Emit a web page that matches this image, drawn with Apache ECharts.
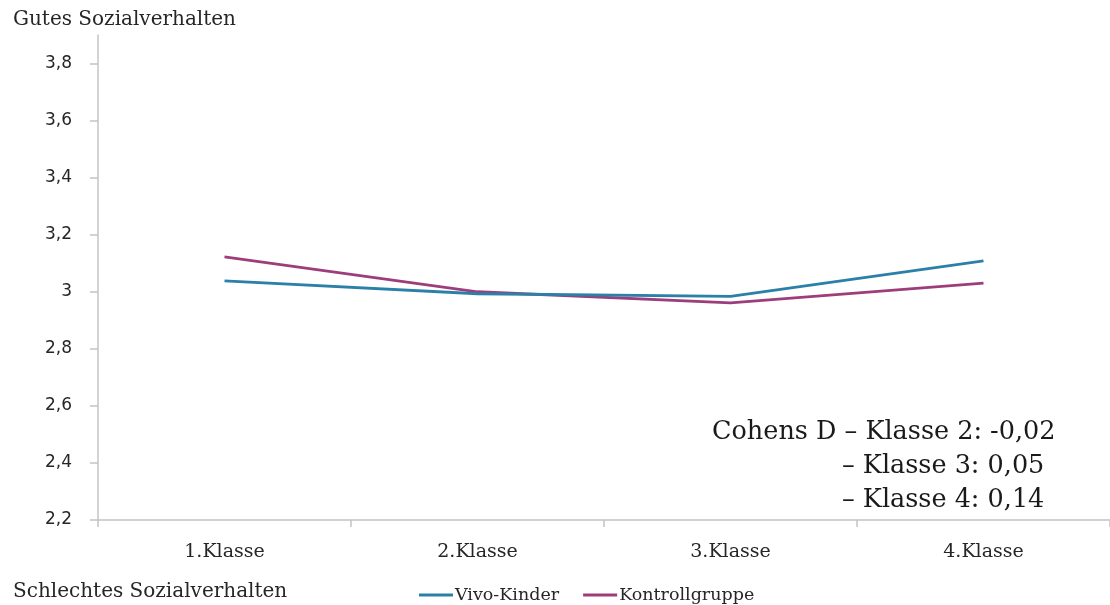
<!DOCTYPE html>
<html>
<head>
<meta charset="utf-8">
<script src="https://cdn.jsdelivr.net/npm/echarts@6/dist/echarts.min.js"></script>
<style>html,body{margin:0;padding:0;background:#fff}#c{width:1110px;height:605px}</style>
</head>
<body>
<div id="c"></div>
<script>
const categories = ['1.Klasse', '2.Klasse', '3.Klasse', '4.Klasse'];
const vivoKinder = [3.038, 2.993, 2.984, 3.108];
const kontrollgruppe = [3.122, 3.0, 2.961, 3.03];
const yTicks = [2.2, 2.4, 2.6, 2.8, 3.0, 3.2, 3.4, 3.6, 3.8];
const seriesNames = ['Vivo-Kinder', 'Kontrollgruppe'];
const yTitleTop = 'Gutes Sozialverhalten';
const yTitleBottom = 'Schlechtes Sozialverhalten';
const noteLines = ['Cohens D – Klasse 2: -0,02', '– Klasse 3: 0,05', '– Klasse 4: 0,14'];

const serif = '"DejaVu Serif", serif';
const chart = echarts.init(document.getElementById('c'), null, {renderer: 'canvas'});
chart.setOption({
  animation: false,
  backgroundColor: '#fff',
  grid: {left: 98, right: -7, top: 35, bottom: 85, containLabel: false},
  legend: {
    left: 414, top: 581, itemGap: 24, itemWidth: 34, itemHeight: 3,
    textStyle: {fontFamily: serif, fontSize: 17.5, color: '#262626', padding: [0,0,0,-3]},
    data: [
      {name: seriesNames[0], icon: 'rect'},
      {name: seriesNames[1], icon: 'rect'}
    ]
  },
  xAxis: {
    type: 'category', data: categories, boundaryGap: true,
    axisLine: {lineStyle: {color: '#c4c4c4', width: 1.5}},
    axisTick: {show: true, length: 7, lineStyle: {color: '#c4c4c4', width: 1.5}},
    axisLabel: {fontFamily: serif, fontSize: 19, color: '#262626', margin: 23}
  },
  yAxis: {
    type: 'value', min: 2.2, max: 3.9, interval: 0.2,
    axisLine: {show: true, lineStyle: {color: '#c4c4c4', width: 1.5}},
    axisTick: {show: true, length: 8, lineStyle: {color: '#c4c4c4', width: 1.5}, customValues: yTicks},
    splitLine: {show: false},
    axisLabel: {
      customValues: yTicks, margin: 26,
      fontFamily: '"DejaVu Sans", sans-serif', fontSize: 17, color: '#262626',
      formatter: v => String(Math.round(v * 10) / 10).replace('.', ',')
    }
  },
  series: [
    {name: seriesNames[0], type: 'line', data: vivoKinder, symbol: 'none',
     lineStyle: {color: '#2b80a8', width: 2.8}, itemStyle: {color: '#2b80a8'}, z: 3},
    {name: seriesNames[1], type: 'line', data: kontrollgruppe, symbol: 'none',
     lineStyle: {color: '#9e3d7b', width: 2.8}, itemStyle: {color: '#9e3d7b'}, z: 2}
  ],
  graphic: [
    {type: 'text', left: 13, top: 10, style: {text: yTitleTop, font: '20px ' + serif, fill: '#262626'}},
    {type: 'text', left: 13, top: 582, style: {text: yTitleBottom, font: '20px ' + serif, fill: '#262626'}},
    {type: 'text', left: 712, top: 419, style: {text: noteLines[0], font: '25.5px ' + serif, fill: '#1a1a1a'}},
    {type: 'text', left: 842, top: 453, style: {text: noteLines[1], font: '25.5px ' + serif, fill: '#1a1a1a'}},
    {type: 'text', left: 842, top: 487, style: {text: noteLines[2], font: '25.5px ' + serif, fill: '#1a1a1a'}}
  ]
});
</script>
</body>
</html>
